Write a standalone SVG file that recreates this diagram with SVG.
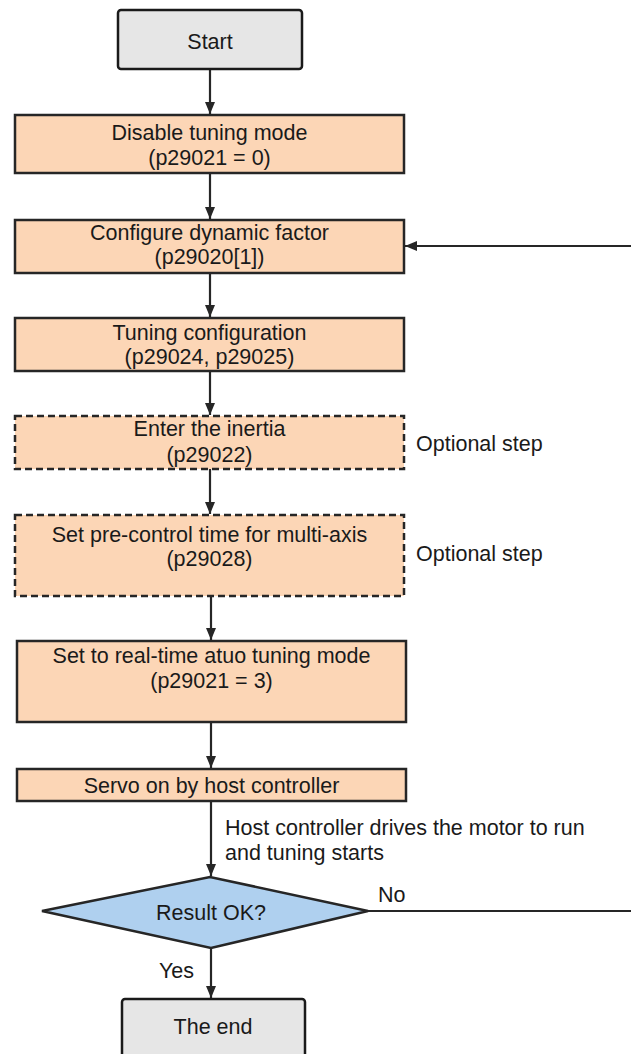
<svg xmlns="http://www.w3.org/2000/svg" width="631" height="1054" viewBox="0 0 631 1054">
<defs>
<style>
text{font-family:"Liberation Sans",Arial,sans-serif;font-size:21.5px;fill:#1a1a1a}
.c{text-anchor:middle}
.box{fill:#fcd6b6;stroke:#262626;stroke-width:2.5}
.dash{fill:#fcd6b6;stroke:#262626;stroke-width:2.5;stroke-dasharray:7 4}
.term{fill:#e6e6e6;stroke:#1a1a1a;stroke-width:2.5}
.dec{fill:#afd0ef;stroke:#262626;stroke-width:2.5}
.con{fill:none;stroke:#262626;stroke-width:2.2;marker-end:url(#ah)}
.line{fill:none;stroke:#262626;stroke-width:2.2}
</style>
<marker id="ah" viewBox="0 0 12 10" refX="12" refY="5" markerWidth="12" markerHeight="10" markerUnits="userSpaceOnUse" orient="auto">
<path d="M0,0 L12,5 L0,10 Z" fill="#262626"/>
</marker>
</defs>
<g id="connectors">
<path class="con" d="M210,69 V114"/>
<path class="con" d="M210,173 V219"/>
<path class="con" d="M210,273 V317"/>
<path class="con" d="M210,371 V415"/>
<path class="con" d="M210,469 V514"/>
<path class="con" d="M211,596 V640"/>
<path class="con" d="M211,722 V768"/>
<path class="con" d="M211,801 V876"/>
<path class="con" d="M211,948 V998"/>
<path class="con" d="M368,911 H650 V246 H405"/>
</g>
<g id="start"><rect class="term" x="118" y="10" width="184" height="59" rx="3"/><text class="c" x="210" y="49">Start</text></g>
<g id="disable"><rect class="box" x="15" y="115" width="389" height="58"/><text class="c" x="209.5" y="139.5">Disable tuning mode</text><text class="c" x="209.5" y="164.5">(p29021 = 0)</text></g>
<g id="configure"><rect class="box" x="15" y="220" width="389" height="53"/><text class="c" x="209.5" y="239.5">Configure dynamic factor</text><text class="c" x="209.5" y="264">(p29020[1])</text></g>
<g id="tuning"><rect class="box" x="15" y="318" width="389" height="53"/><text class="c" x="209.5" y="339.5">Tuning configuration</text><text class="c" x="209.5" y="363.5">(p29024, p29025)</text></g>
<g id="inertia"><rect class="dash" x="15" y="416" width="389" height="53"/><text class="c" x="209.5" y="436">Enter the inertia</text><text class="c" x="209.5" y="462">(p29022)</text><text x="416" y="450.5">Optional step</text></g>
<g id="precontrol"><rect class="dash" x="15" y="515" width="389" height="81"/><text class="c" x="209.5" y="542">Set pre-control time for multi-axis</text><text class="c" x="209.5" y="566">(p29028)</text><text x="416" y="560.5">Optional step</text></g>
<g id="realtime"><rect class="box" x="17" y="641" width="389" height="81"/><text class="c" x="211.5" y="662.5">Set to real-time atuo tuning mode</text><text class="c" x="211.5" y="687.5">(p29021 = 3)</text></g>
<g id="servo"><rect class="box" x="17" y="769" width="389" height="32"/><text class="c" x="211.5" y="792.5">Servo on by host controller</text></g>
<g id="note"><text x="225" y="834.5">Host controller drives the motor to run</text><text x="225" y="859.5">and tuning starts</text></g>
<g id="decision"><path class="dec" d="M42,911 L210,877 L368,911 L211,948 Z"/><text class="c" x="211" y="919.5">Result OK?</text><text x="378" y="902">No</text><text x="159" y="977.5">Yes</text></g>
<g id="end"><rect class="term" x="122" y="999" width="183" height="70" rx="3"/><text class="c" x="213" y="1033.5">The end</text></g>
</svg>
